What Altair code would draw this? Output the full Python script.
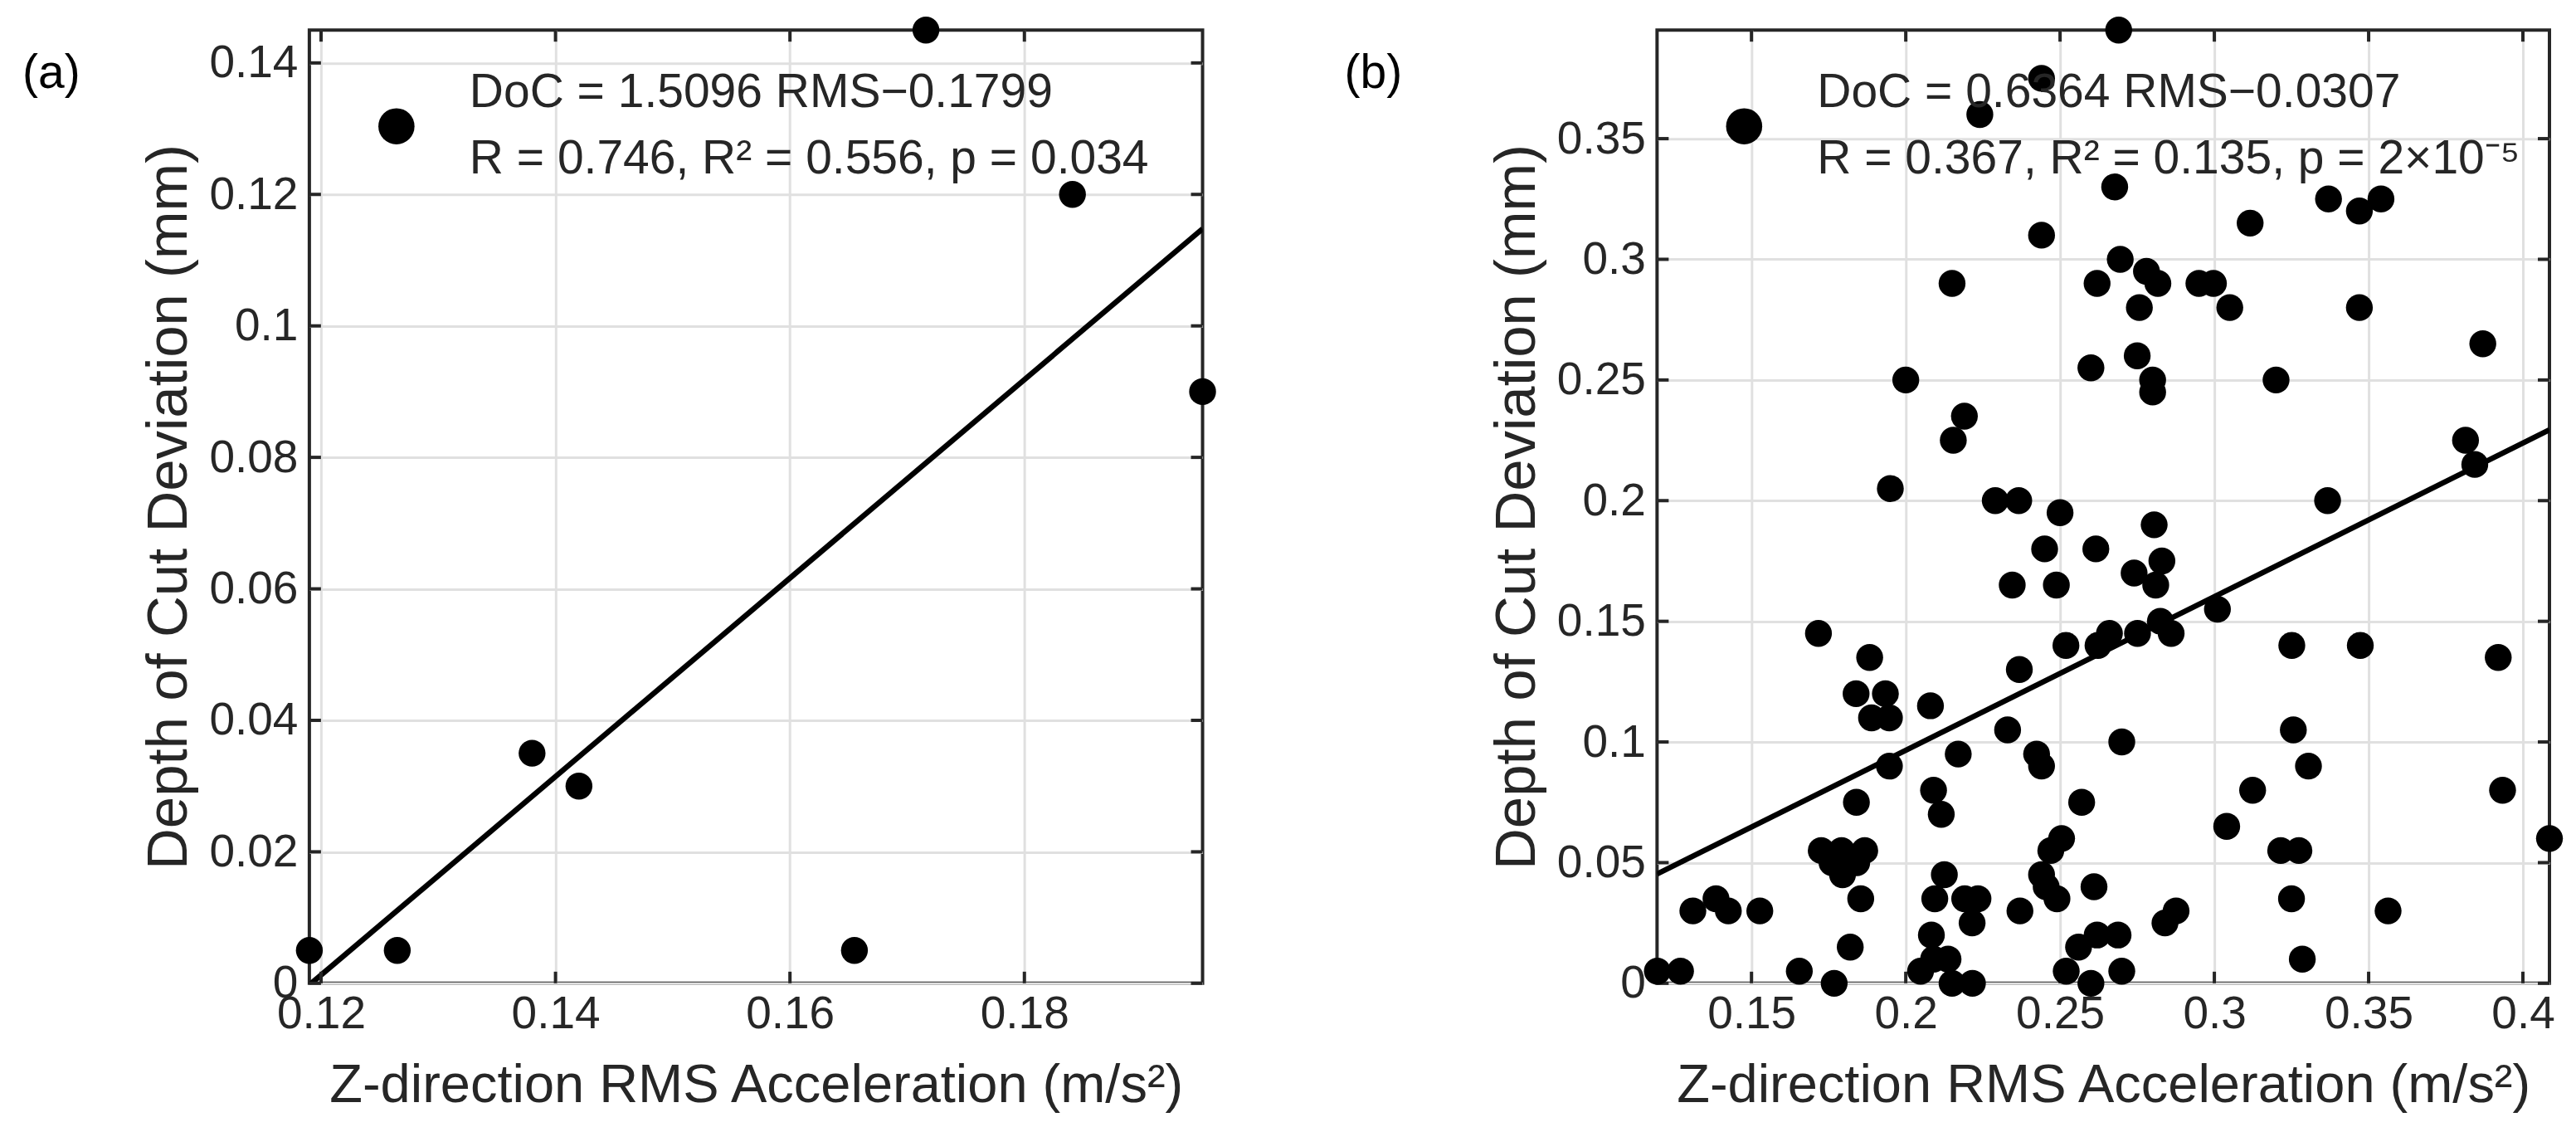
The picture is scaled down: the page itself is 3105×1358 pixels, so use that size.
import altair as alt
import pandas as pd

FONT = "Liberation Sans"
INK = "#262626"

# ---------------- Panel (a) data ----------------
a_rms = [0.119, 0.1265, 0.138, 0.142, 0.1655, 0.1716, 0.1841, 0.1952]
a_doc = [0.005, 0.005, 0.035, 0.030, 0.005, 0.145, 0.120, 0.090]
a_xlim = [0.119, 0.1952]
a_ylim = [0.0, 0.145]
a_xticks = [0.12, 0.14, 0.16, 0.18]
a_yticks = [0.0, 0.02, 0.04, 0.06, 0.08, 0.10, 0.12, 0.14]
a_slope, a_intercept = 1.5096, -0.1799
a_legend = ["DoC = 1.5096 RMS\u22120.1799", "R = 0.746, R\u00b2 = 0.556, p = 0.034"]

# ---------------- Panel (b) data ----------------
b_rms = [0.269, 0.244, 0.224, 0.2677, 0.337, 0.347, 0.354, 0.3116, 0.244, 0.2695,
         0.215, 0.262, 0.278, 0.2817, 0.295, 0.2997, 0.2757, 0.305, 0.347, 0.260,
         0.275, 0.280, 0.280, 0.320, 0.387, 0.200, 0.219, 0.2154, 0.3814, 0.3844,
         0.195, 0.229, 0.2366, 0.3367, 0.250, 0.2805,
         0.245, 0.2616, 0.283, 0.274, 0.281, 0.2345, 0.2488, 0.301, 0.2825, 0.266,
         0.2751, 0.286, 0.2623, 0.2519, 0.2368, 0.1717, 0.1883, 0.1839, 0.1934, 0.1889,
         0.1947, 0.208, 0.233, 0.217, 0.2424, 0.244, 0.270, 0.1947, 0.184, 0.209,
         0.2115, 0.257, 0.304, 0.2505, 0.247, 0.1726, 0.1792, 0.1867, 0.1761, 0.1841,
         0.1795, 0.2125, 0.244, 0.2455, 0.249, 0.261, 0.1854, 0.2094, 0.2191, 0.2234,
         0.2215, 0.237, 0.2083, 0.2876, 0.284, 0.256, 0.262, 0.2688, 0.2137, 0.209,
         0.2048, 0.215, 0.2216, 0.252, 0.260, 0.270, 0.182, 0.131, 0.1385, 0.1425,
         0.1527, 0.1195, 0.127, 0.1655, 0.1768, 0.3251, 0.3473, 0.392, 0.3256, 0.3305,
         0.3124, 0.3934, 0.4086, 0.3215, 0.3274, 0.325, 0.3563, 0.3285]
b_doc = [0.395, 0.375, 0.360, 0.330, 0.325, 0.320, 0.325, 0.315, 0.310, 0.300,
         0.290, 0.290, 0.295, 0.290, 0.290, 0.290, 0.280, 0.280, 0.280, 0.255,
         0.260, 0.250, 0.245, 0.250, 0.265, 0.250, 0.235, 0.225, 0.225, 0.215,
         0.205, 0.200, 0.200, 0.200, 0.195, 0.190,
         0.180, 0.180, 0.175, 0.170, 0.165, 0.165, 0.165, 0.155, 0.150, 0.145,
         0.145, 0.145, 0.140, 0.140, 0.130, 0.145, 0.135, 0.120, 0.120, 0.110,
         0.110, 0.115, 0.105, 0.095, 0.095, 0.090, 0.100, 0.090, 0.075, 0.080,
         0.070, 0.075, 0.065, 0.060, 0.055, 0.055, 0.055, 0.055, 0.050, 0.050,
         0.045, 0.045, 0.045, 0.040, 0.035, 0.040, 0.035, 0.035, 0.035, 0.035,
         0.025, 0.030, 0.020, 0.030, 0.025, 0.015, 0.020, 0.020, 0.010, 0.010,
         0.005, 0.000, 0.000, 0.005, 0.000, 0.005, 0.015, 0.030, 0.035, 0.030,
         0.030, 0.005, 0.005, 0.005, 0.000, 0.140, 0.140, 0.135, 0.105, 0.090,
         0.080, 0.080, 0.060, 0.055, 0.055, 0.035, 0.030, 0.010]
b_xlim = [0.1194, 0.4086]
b_ylim = [0.0, 0.395]
b_xticks = [0.15, 0.2, 0.25, 0.3, 0.35, 0.4]
b_yticks = [0.0, 0.05, 0.10, 0.15, 0.20, 0.25, 0.30, 0.35]
b_slope, b_intercept = 0.6364, -0.0307
b_legend = ["DoC = 0.6364 RMS\u22120.0307", "R = 0.367, R\u00b2 = 0.135, p = 2\u00d710\u207b\u2075"]

X_TITLE = "Z-direction RMS Acceleration (m/s\u00b2)"
Y_TITLE = "Depth of Cut Deviation (mm)"

H = 1149
TICK = 14


def panel(rms, doc, xlim, ylim, xticks, yticks, slope, intercept, legend, label, label_dx, width):
    xs = alt.Scale(domain=xlim, nice=False, zero=False)
    ys = alt.Scale(domain=ylim, nice=False, zero=False)
    xa = alt.Axis(values=xticks, format="~g", title=X_TITLE, grid=True)
    ya = alt.Axis(values=yticks, format="~g", title=Y_TITLE, grid=True)
    pts = pd.DataFrame({"x": rms, "y": doc})
    fit = pd.DataFrame({"x": xlim, "y": [slope * v + intercept for v in xlim]})
    xt = pd.DataFrame({"x": xticks})
    yt = pd.DataFrame({"y": yticks})
    one = pd.DataFrame({"k": [0]})

    X = alt.X("x:Q", scale=xs, axis=xa)
    Y = alt.Y("y:Q", scale=ys, axis=ya)

    line = alt.Chart(fit).mark_line(color="black", strokeWidth=6.5, clip=True).encode(x=X, y=Y)
    dots = alt.Chart(pts).mark_circle(color="black", size=1050, opacity=1).encode(x=X, y=Y)
    rule_style = dict(color=INK, strokeWidth=4)
    xb = alt.Chart(xt).mark_rule(**rule_style).encode(
        x=X, y=alt.value(H), y2=alt.value(H - TICK))
    xtop = alt.Chart(xt).mark_rule(**rule_style).encode(
        x=X, y=alt.value(0), y2=alt.value(TICK))
    yl = alt.Chart(yt).mark_rule(**rule_style).encode(
        y=Y, x=alt.value(0), x2=alt.value(TICK))
    yr = alt.Chart(yt).mark_rule(**rule_style).encode(
        y=Y, x=alt.value(width), x2=alt.value(width - TICK))

    leg_dot = alt.Chart(one).mark_circle(color="black", size=1900, opacity=1).encode(
        x=alt.value(105), y=alt.value(116))
    txt = dict(align="left", baseline="alphabetic", fontSize=57, font=FONT, color=INK)
    leg1 = alt.Chart(one).mark_text(**txt).encode(
        x=alt.value(193), y=alt.value(93), text=alt.value(legend[0]))
    leg2 = alt.Chart(one).mark_text(**txt).encode(
        x=alt.value(193), y=alt.value(173), text=alt.value(legend[1]))
    lab = alt.Chart(one).mark_text(align="left", baseline="alphabetic", fontSize=57,
                                   font=FONT, color="black").encode(
        x=alt.value(label_dx), y=alt.value(70), text=alt.value(label))

    return alt.layer(line, xb, xtop, yl, yr, dots, leg_dot, leg1, leg2, lab).properties(
        width=width, height=H)


pa = panel(a_rms, a_doc, a_xlim, a_ylim, a_xticks, a_yticks, a_slope, a_intercept,
           a_legend, "(a)", -346, 1077)
pb = panel(b_rms, b_doc, b_xlim, b_ylim, b_xticks, b_yticks, b_slope, b_intercept,
           b_legend, "(b)", -377, 1076)

chart = alt.hconcat(pa, pb, spacing=150).properties(
    padding={"left": 17, "top": 9, "right": 5, "bottom": 5},
    background="white",
).configure_view(
    stroke=INK, strokeWidth=4
).configure_axis(
    labelFont=FONT, titleFont=FONT, labelFontSize=55,
    labelColor=INK, titleColor=INK, titleFontWeight="normal",
    gridColor="#e0e0e0", gridWidth=3, gridOpacity=1,
    domain=False, ticks=False, tickSize=0,
).configure_axisX(
    labelPadding=11, titlePadding=27, titleFontSize=65,
).configure_axisY(
    labelPadding=14, titlePadding=13, titleFontSize=69,
)

chart.save("out.html", embed_options={"renderer": "svg", "actions": False})
